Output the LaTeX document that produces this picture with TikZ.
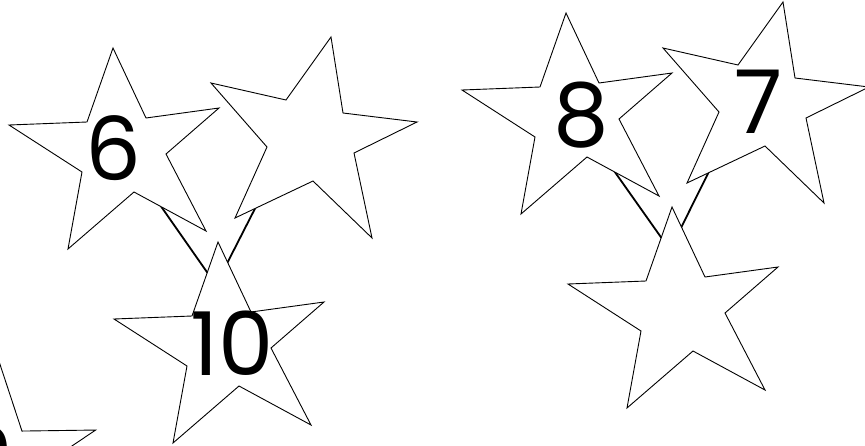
\documentclass[tikz,border=0pt]{standalone}
\usepackage{fontspec}
\newfontfamily\numfont{Poppins}
\usetikzlibrary{positioning}

\tikzset{
  stella/.style={draw=black, line width=0.9pt, fill=white, line join=miter},
  ramo/.style={draw=black, line width=1.8pt},
  numero/.style={font=\numfont\fontsize{88}{88}\selectfont, inner sep=0pt},
  % stella con la punta in alto
  stellaA/.pic={
    \path[stella] (-10,-104) -- (23,-34) -- (96,-44) -- (43,2) -- (83,79) -- (11,40)
      -- (-55,97) -- (-41,20) -- (-114,-27) -- (-36,-30) -- cycle;
  },
  % stella girata verso destra
  stellaB/.pic={
    \path[stella] (18,-103) -- (30,-27) -- (104,-18) -- (41,13) -- (59,98) -- (0,41)
      -- (-78,78) -- (-46,7) -- (-102,-57) -- (-27,-40) -- cycle;
  }
}

\begin{document}
\begin{tikzpicture}[x=1pt, y=-1pt]
  \clip (0,0) rectangle (865,445);

  % Centri delle stelle
  \coordinate (s6) at (123,152);
  \coordinate (sv1) at (313,140);
  \coordinate (s10) at (228,346);
  \coordinate (s8) at (576,117);
  \coordinate (s7) at (765,105);
  \coordinate (sv2) at (682,311);
  \coordinate (s9) at (-5,462);

  % Punti dei rami
  \coordinate (g1) at (290,140);
  \coordinate (f10) at (216,285);
  \coordinate (g7) at (742,105);
  \coordinate (f2) at (670,250);

  % Rami
  \draw[ramo] (s6) -- (f10) -- (g1);
  \draw[ramo] (s8) -- (f2) -- (g7);

  % Stelle
  \pic at (s6) {stellaA};
  \pic at (sv1) {stellaB};
  \pic at (s10) {stellaA};
  \pic at (s8) {stellaA};
  \pic at (s7) {stellaB};
  \pic at (sv2) {stellaA};
  \pic[rotate=-7] at (s9) {stellaA};

  % Numeri
  \node[numero] (n6) at (113,148) {6};
  \node[numero] (n10) at (232,343) {10};
  \node[numero] (n8) at (581,115) {8};
  \node[numero] (n7) at (759,102) {7};
  \node[numero, rotate=-7] (n9) at (-15,458) {9};
\end{tikzpicture}
\end{document}
